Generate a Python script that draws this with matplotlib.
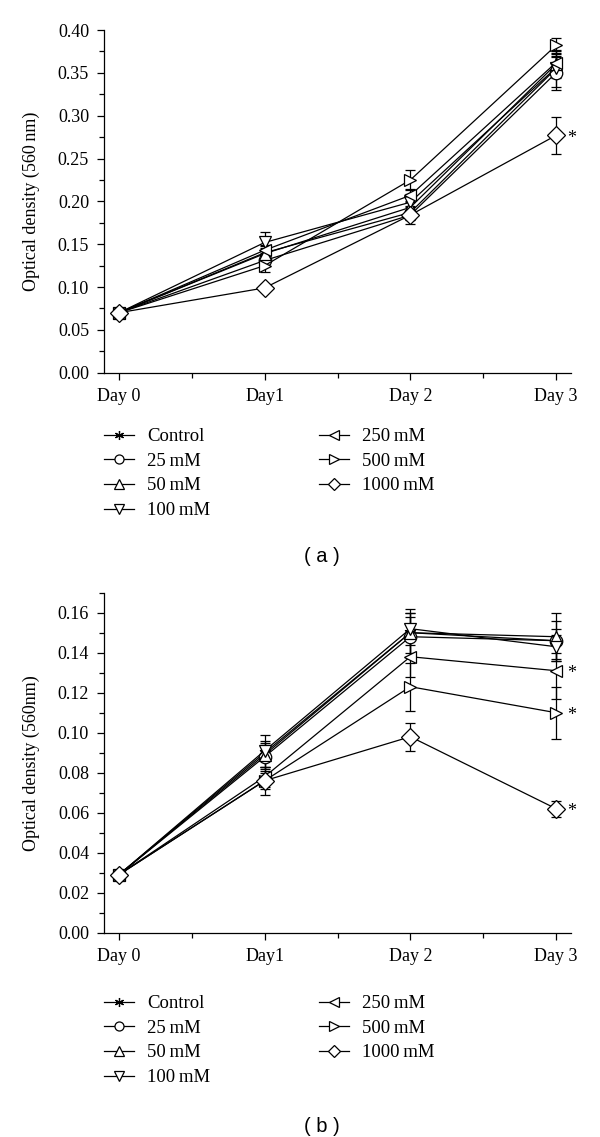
import matplotlib
matplotlib.use("Agg")
import matplotlib.pyplot as plt
from matplotlib.lines import Line2D
from matplotlib.ticker import MultipleLocator

plt.rcParams["font.family"] = ["Liberation Serif", "DejaVu Serif"]

days = [0, 1, 2, 3]
day_labels = ["Day 0", "Day1", "Day 2", "Day 3"]
groups = ["Control", "25\u2009mM", "50\u2009mM", "100\u2009mM", "250\u2009mM", "500\u2009mM", "1000\u2009mM"]
markers = [(6, 2, 0), "o", "^", "v", "<", ">", "D"]

# panel (a)
od_a = {
    "Control": [0.070, 0.140, 0.187, 0.355],
    "25 mM": [0.070, 0.131, 0.184, 0.350],
    "50 mM": [0.070, 0.139, 0.193, 0.360],
    "100 mM": [0.070, 0.152, 0.199, 0.356],
    "250 mM": [0.070, 0.143, 0.207, 0.362],
    "500 mM": [0.070, 0.125, 0.225, 0.382],
    "1000 mM": [0.070, 0.099, 0.184, 0.277],
}
err_a = {
    "Control": [0.003, 0.008, 0.008, 0.022],
    "25 mM": [0.003, 0.006, 0.010, 0.020],
    "50 mM": [0.003, 0.007, 0.008, 0.015],
    "100 mM": [0.003, 0.012, 0.010, 0.012],
    "250 mM": [0.003, 0.006, 0.008, 0.010],
    "500 mM": [0.003, 0.007, 0.012, 0.009],
    "1000 mM": [0.003, 0.004, 0.006, 0.022],
}
star_a = ["1000 mM"]

# panel (b)
od_b = {
    "Control": [0.029, 0.090, 0.150, 0.146],
    "25 mM": [0.029, 0.088, 0.148, 0.146],
    "50 mM": [0.029, 0.089, 0.150, 0.148],
    "100 mM": [0.029, 0.091, 0.152, 0.143],
    "250 mM": [0.029, 0.078, 0.138, 0.131],
    "500 mM": [0.029, 0.076, 0.123, 0.110],
    "1000 mM": [0.029, 0.076, 0.098, 0.062],
}
err_b = {
    "Control": [0.001, 0.009, 0.012, 0.010],
    "25 mM": [0.001, 0.006, 0.010, 0.006],
    "50 mM": [0.001, 0.006, 0.010, 0.012],
    "100 mM": [0.001, 0.005, 0.008, 0.006],
    "250 mM": [0.001, 0.005, 0.010, 0.014],
    "500 mM": [0.001, 0.004, 0.012, 0.013],
    "1000 mM": [0.001, 0.007, 0.007, 0.004],
}
star_b = ["250 mM", "500 mM", "1000 mM"]


def draw_panel(ax, od, err, stars, ymax, ystep, yminor, ylabel):
    keys = list(od.keys())
    for key, mk in zip(keys, markers):
        ax.errorbar(days, od[key], yerr=err[key], marker=mk, ms=9,
                    mfc="white", mec="black", mew=0.9, color="black",
                    lw=0.9, elinewidth=0.9, capsize=3.5, capthick=0.9)
    for key in stars:
        ax.annotate("*", (days[-1], od[key][-1]), xytext=(11, -2),
                    textcoords="offset points", ha="center", va="center",
                    fontsize=13)
    ax.set_xlim(-0.1, 3.1)
    ax.set_ylim(0, ymax)
    ax.set_xticks(days)
    ax.set_xticklabels(day_labels)
    ax.xaxis.set_minor_locator(MultipleLocator(0.5))
    ax.yaxis.set_major_locator(MultipleLocator(ystep))
    ax.yaxis.set_minor_locator(MultipleLocator(yminor))
    ax.yaxis.set_major_formatter(plt.FormatStrFormatter("%.2f"))
    for s in ["top", "right"]:
        ax.spines[s].set_visible(False)
    for s in ["left", "bottom"]:
        ax.spines[s].set_linewidth(0.9)
    ax.tick_params(which="major", direction="out", length=5, width=0.9,
                   labelsize=13, pad=6)
    ax.tick_params(which="minor", direction="out", length=3.5, width=0.9)
    ax.set_ylabel(ylabel, fontsize=13)
    ax.yaxis.set_label_coords(-0.138, 0.5)


def add_legend(fig, top):
    handles = [Line2D([0], [0], color="black", lw=0.9, marker=mk, ms=6.5,
                      mfc="white", mec="black", mew=0.9)
               for mk in markers]
    fig.legend(handles, groups, loc="upper left", bbox_to_anchor=(0.1733, top),
               ncol=2, frameon=False, fontsize=13.5, borderpad=0,
               borderaxespad=0, handlelength=1.6, handletextpad=0.7,
               columnspacing=5.8, labelspacing=0.4)


fig = plt.figure(figsize=(6, 11.37), dpi=100)
ax_a = fig.add_axes([0.174, 0.6722, 0.777, 0.3014])
ax_b = fig.add_axes([0.174, 0.1797, 0.777, 0.299])

draw_panel(ax_a, od_a, err_a, star_a, 0.40, 0.05, 0.025, "Optical density (560\u2009nm)")
draw_panel(ax_b, od_b, err_b, star_b, 0.17, 0.02, 0.01, "Optical density (560nm)")

add_legend(fig, 0.6235)
add_legend(fig, 0.1248)

fig.text(322 / 600, 1 - 557 / 1137, "( a )", ha="center", va="center",
         fontsize=14.5, family="Liberation Sans")
fig.text(322 / 600, 1 - 1126 / 1137, "( b )", ha="center", va="center",
         fontsize=14.5, family="Liberation Sans")

fig.savefig("out.png", dpi=100)
